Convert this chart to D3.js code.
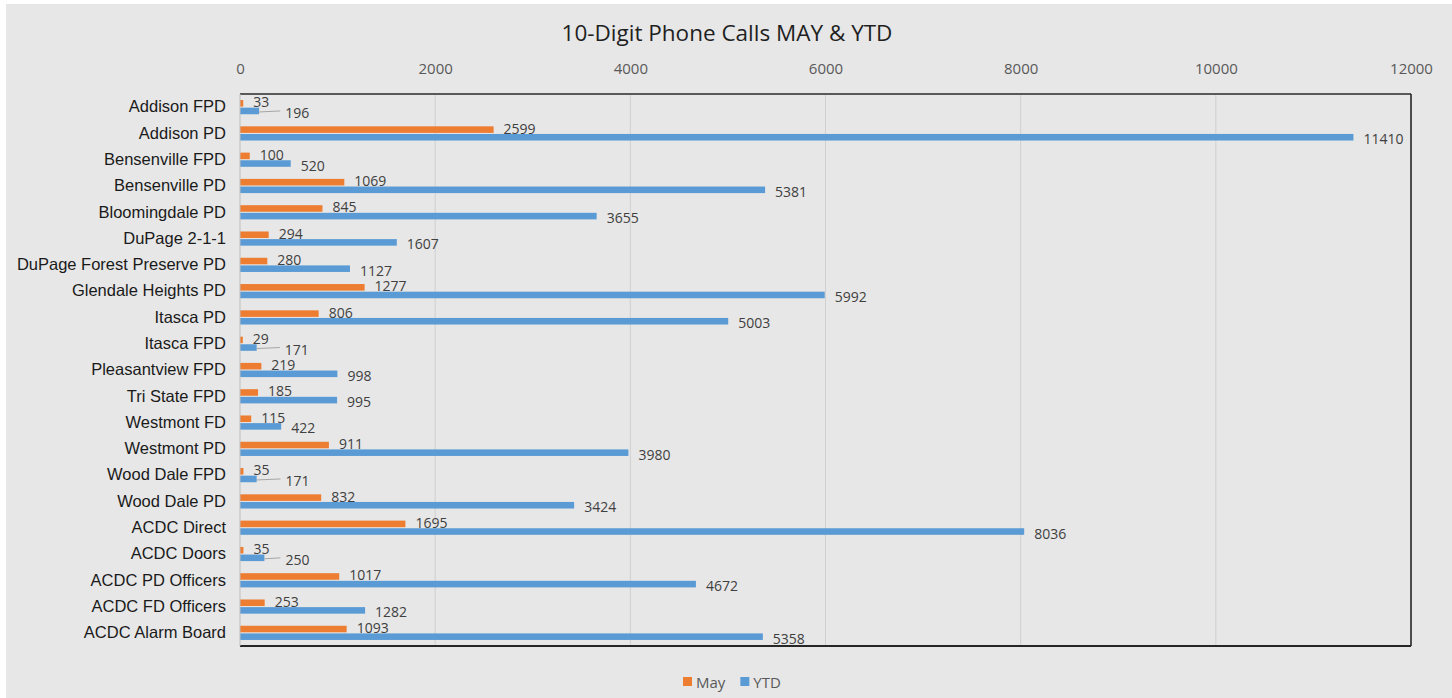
<!DOCTYPE html>
<html>
<head>
<meta charset="utf-8">
<script src="https://cdn.jsdelivr.net/npm/d3@7"></script>
<style>
    body { margin: 0; background: #fff; }
    svg { display: block; }
</style>
</head>
<body>
<div id="chart"></div>
<script>
// chart values
var categories = ["Addison FPD", "Addison PD", "Bensenville FPD", "Bensenville PD", "Bloomingdale PD",
    "DuPage 2-1-1", "DuPage Forest Preserve PD", "Glendale Heights PD", "Itasca PD", "Itasca FPD",
    "Pleasantview FPD", "Tri State FPD", "Westmont FD", "Westmont PD", "Wood Dale FPD", "Wood Dale PD",
    "ACDC Direct", "ACDC Doors", "ACDC PD Officers", "ACDC FD Officers", "ACDC Alarm Board"];
var mayValues = [33, 2599, 100, 1069, 845, 294, 280, 1277, 806, 29, 219, 185, 115, 911, 35, 832, 1695, 35, 1017, 253, 1093];
var ytdValues = [196, 11410, 520, 5381, 3655, 1607, 1127, 5992, 5003, 171, 998, 995, 422, 3980, 171, 3424, 8036, 250, 4672, 1282, 5358];
var xTicks = [0, 2000, 4000, 6000, 8000, 10000, 12000];
var seriesNames = ["May", "YTD"];
var seriesColors = {"May": "#ED7D31", "YTD": "#5B9BD5"};

var W = 1452, H = 698;
var margin = {top: 94, right: 41, bottom: 52, left: 240};
var width = W - margin.left - margin.right;
var height = H - margin.top - margin.bottom;

var root = d3.select("#chart").append("svg")
    .attr("width", W)
    .attr("height", H);

root.append("rect")
    .attr("x", 6).attr("y", 4)
    .attr("width", W - 6).attr("height", H - 4)
    .attr("fill", "#e7e7e7");

root.append("text")
    .attr("x", 727).attr("y", 41)
    .attr("text-anchor", "middle")
    .attr("font-family", "'Open Sans', sans-serif")
    .attr("font-size", 22.5)
    .attr("fill", "#1f1f1f")
    .text("10-Digit Phone Calls MAY & YTD");

var svg = root.append("g")
    .attr("transform", "translate(" + margin.left + "," + margin.top + ")");

var x = d3.scaleLinear().domain([0, 12000]).range([0, width]);
var y = d3.scaleBand().domain(categories).range([0, height])
    .paddingInner(0.46).paddingOuter(0.23);
var ys = d3.scaleBand().domain(seriesNames).range([0, y.bandwidth()]).paddingInner(0.14);

// gridlines
svg.append("g")
    .selectAll("line")
    .data(xTicks.slice(1, -1))
    .enter().append("line")
    .attr("x1", function(d) { return x(d); })
    .attr("x2", function(d) { return x(d); })
    .attr("y1", 0).attr("y2", height)
    .attr("stroke", "#cfcfcf")
    .attr("stroke-width", 1);

// top axis
var xAxis = svg.append("g")
    .attr("transform", "translate(0,-17)")
    .call(d3.axisTop(x).tickValues(xTicks).tickSize(0).tickFormat(d3.format("d")));
xAxis.select(".domain").remove();
xAxis.selectAll("text")
    .attr("font-family", "'Open Sans', sans-serif")
    .attr("font-size", 15)
    .attr("fill", "#595959");

// left axis labels
var yAxis = svg.append("g")
    .call(d3.axisLeft(y).tickSize(0).tickPadding(14));
yAxis.select(".domain").remove();
yAxis.selectAll("text")
    .attr("font-family", "'Liberation Sans', Arial, sans-serif")
    .attr("font-size", 16.5)
    .attr("fill", "#1a1a1a");

var rows = categories.map(function(c, i) {
    return {cat: c, May: mayValues[i], YTD: ytdValues[i]};
});

var labelFont = "'Open Sans', sans-serif";
var row = svg.selectAll(".row")
    .data(rows)
    .enter().append("g")
    .attr("class", "row")
    .attr("transform", function(d) { return "translate(0," + y(d.cat) + ")"; });

seriesNames.forEach(function(s) {
    row.append("rect")
        .attr("x", 0)
        .attr("y", ys(s))
        .attr("width", function(d) { return x(d[s]); })
        .attr("height", ys.bandwidth())
        .attr("fill", seriesColors[s]);
});

row.each(function(d) {
    var g = d3.select(this);
    var mayEnd = x(d.May), ytdEnd = x(d.YTD);
    var mayLabel = g.append("text")
        .attr("x", mayEnd + 10)
        .attr("y", ys("May") + ys.bandwidth() / 2 - 1.5)
        .attr("dominant-baseline", "central")
        .attr("font-family", labelFont)
        .attr("font-size", 14)
        .attr("fill", "#404040")
        .text(d.May);
    var mayRight = mayEnd + 10 + mayLabel.node().getComputedTextLength();
    var ytdX = ytdEnd + 10;
    // tiny May bars: push the YTD label out and attach a leader line
    if (mayEnd < 6) {
        ytdX = Math.max(ytdX, mayRight + 16);
        g.append("line")
            .attr("x1", ytdEnd)
            .attr("x2", ytdX - 5)
            .attr("y1", ys("YTD") + ys.bandwidth() / 2 + 1)
            .attr("y2", ys("YTD") + ys.bandwidth() / 2)
            .attr("stroke", "#a6a6a6")
            .attr("stroke-width", 1);
    }
    g.append("text")
        .attr("x", ytdX)
        .attr("y", ys("YTD") + ys.bandwidth() / 2 + 1.5)
        .attr("dominant-baseline", "central")
        .attr("font-family", labelFont)
        .attr("font-size", 14)
        .attr("fill", "#404040")
        .text(d.YTD);
});

// plot frame
svg.append("line").attr("x1", 0).attr("x2", width).attr("y1", 0).attr("y2", 0)
    .attr("stroke", "#595959").attr("stroke-width", 2);
svg.append("line").attr("x1", width).attr("x2", width).attr("y1", 0).attr("y2", height)
    .attr("stroke", "#1a1a1a").attr("stroke-width", 1.5);
svg.append("line").attr("x1", 0).attr("x2", width).attr("y1", height).attr("y2", height)
    .attr("stroke", "#262626").attr("stroke-width", 2);
svg.append("line").attr("x1", 0).attr("x2", 0).attr("y1", 0).attr("y2", height)
    .attr("stroke", "#bfbfbf").attr("stroke-width", 1);

// legend
var legend = root.append("g").attr("transform", "translate(683,677)");
var lx = 0;
seriesNames.forEach(function(s) {
    legend.append("rect")
        .attr("x", lx).attr("y", 0)
        .attr("width", 9).attr("height", 9)
        .attr("fill", seriesColors[s]);
    var t = legend.append("text")
        .attr("x", lx + 13).attr("y", 5)
        .attr("dominant-baseline", "central")
        .attr("font-family", labelFont)
        .attr("font-size", 15)
        .attr("fill", "#595959")
        .text(s);
    lx += 13 + t.node().getComputedTextLength() + 15;
});
</script>
</body>
</html>
